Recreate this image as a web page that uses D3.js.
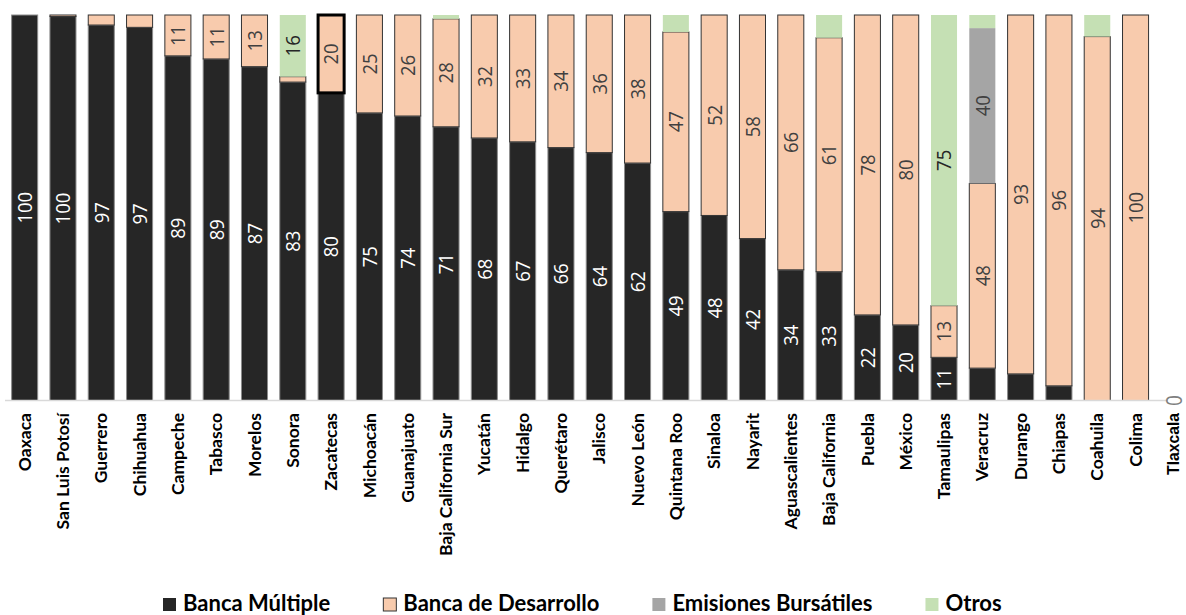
<!DOCTYPE html>
<html>
<head>
<meta charset="utf-8">
<script src="https://cdn.jsdelivr.net/npm/d3@7"></script>
<style>
  body { margin: 0; background: #fff; }
  svg { display: block; }
</style>
</head>
<body>
<div id="chart"></div>
<script>
var width = 1186,
  height = 615;

// estados, de mayor a menor participacion de banca multiple
var categories = ["Oaxaca", "San Luis Potosí", "Guerrero", "Chihuahua", "Campeche", "Tabasco",
  "Morelos", "Sonora", "Zacatecas", "Michoacán", "Guanajuato", "Baja California Sur", "Yucatán",
  "Hidalgo", "Querétaro", "Jalisco", "Nuevo León", "Quintana Roo", "Sinaloa", "Nayarit",
  "Aguascalientes", "Baja California", "Puebla", "México", "Tamaulipas", "Veracruz", "Durango",
  "Chiapas", "Coahuila", "Colima", "Tlaxcala"];

var bancaMultiple = [100, 99.6, 97.4, 96.8, 89.4, 88.6, 86.6, 82.6, 79.8, 74.6, 73.8, 71, 68.1,
  67.1, 65.6, 64.3, 61.6, 49, 48, 42, 33.9, 33.4, 22.2, 19.6, 11.2, 8.4, 6.9, 3.8, 0, 0, 0];
var bancaDesarrollo = [0, 0.4, 2.6, 3.2, 10.6, 11.4, 13.4, 1.4, 20.2, 25.4, 26.2, 28, 31.9,
  32.9, 34.4, 35.7, 38.4, 46.6, 52, 58, 66.1, 60.7, 77.8, 80.4, 13.4, 47.9, 93.1, 96.2, 94.4, 100, 0];
var emisiones = [0, 0, 0, 0, 0, 0, 0, 0, 0, 0, 0, 0, 0, 0, 0, 0, 0, 0, 0, 0, 0, 0, 0, 0, 0,
  40.3, 0, 0, 0, 0, 0];
var otros = [0, 0, 0, 0, 0, 0, 0, 16, 0, 0, 0, 1, 0, 0, 0, 0, 0, 4.4, 0, 0, 0, 5.9, 0, 0, 75.4,
  3.4, 0, 0, 5.6, 0, 0];

var seriesNames = ["Banca Múltiple", "Banca de Desarrollo", "Emisiones Bursátiles", "Otros"];
var seriesKeys = ["bm", "bd", "eb", "ot"];

var fills = { bm: "#262626", bd: "#f8cbad", eb: "#a5a5a5", ot: "#c5e0b4" },
  strokes = { bm: "#8c8c8c", bd: "#333333", eb: "none", ot: "none" },
  labelColors = { bm: "#ffffff", bd: "#404040", eb: "#404040", ot: "#262626" };

var highlighted = "Zacatecas";   // barra con borde grueso en el original

var rows = categories.map(function(c, i) {
  return { estado: c, bm: bancaMultiple[i], bd: bancaDesarrollo[i], eb: emisiones[i], ot: otros[i] };
});

var svg = d3.select("#chart").append("svg")
  .attr("width", width)
  .attr("height", height);

var x = d3.scaleBand()
  .domain(categories)
  .range([5.5, 1193])
  .paddingInner(0.32)
  .paddingOuter(0.16);

var y = d3.scaleLinear()
  .domain([0, 100])
  .range([400.5, 15]);

var stack = d3.stack().keys(seriesKeys);
var layers = stack(rows);

var layer = svg.append("g")
  .attr("class", "layers")
  .selectAll("g")
  .data(layers)
  .enter().append("g")
  .attr("class", function(d) { return "serie " + d.key; });

layer.selectAll("rect")
  .data(function(d) { return d.map(function(p) { p.key = d.key; return p; }); })
  .enter().append("rect")
  .filter(function(d) { return d[1] - d[0] > 0; })
  .attr("x", function(d) { return x(d.data.estado); })
  .attr("y", function(d) { return y(d[1]); })
  .attr("width", x.bandwidth())
  .attr("height", function(d) { return y(d[0]) - y(d[1]); })
  .attr("fill", function(d) { return fills[d.key]; })
  .attr("stroke", function(d) {
    return (d.key == "bd" && d.data.estado == highlighted) ? "#000" : strokes[d.key];
  })
  .attr("stroke-width", function(d) {
    return (d.key == "bd" && d.data.estado == highlighted) ? 3 : 1;
  });

// eje x
svg.append("line")
  .attr("x1", 5)
  .attr("x2", 1168)
  .attr("y1", y(0))
  .attr("y2", y(0))
  .attr("stroke", "#d9d9d9")
  .attr("stroke-width", 1.5);

// etiquetas de valores (solo los segmentos de 10 o mas)
var fmt = d3.format(".0f");
layer.selectAll("text")
  .data(function(d) { return d.filter(function(p) { return p[1] - p[0] >= 9.5; }); })
  .enter().append("text")
  .attr("transform", function(d) {
    var cx = x(d.data.estado) + x.bandwidth() / 2,
      cy = (y(d[0]) + y(d[1])) / 2;
    return "translate(" + cx + "," + cy + ") rotate(-90) scale(1,1.1)";
  })
  .attr("dy", "0.36em")
  .attr("text-anchor", "middle")
  .style("font-family", "'Open Sans', sans-serif")
  .style("font-size", "18.5px")
  .attr("fill", function(d) { return labelColors[d.key]; })
  .text(function(d) { return fmt(d[1] - d[0]); });

// estado sin financiamiento: el cero sobre el eje
svg.append("g")
  .selectAll("text")
  .data(rows.filter(function(r) { return r.bm + r.bd + r.eb + r.ot == 0; }))
  .enter().append("text")
  .attr("transform", function(d) {
    return "translate(" + (x(d.estado) + x.bandwidth() / 2 + 1) + "," + y(0) + ") rotate(-90) scale(1,1.1)";
  })
  .attr("dy", "0.36em")
  .attr("text-anchor", "middle")
  .style("font-family", "'Open Sans', sans-serif")
  .style("font-size", "19px")
  .attr("fill", "#7f7f7f")
  .text("0");

// nombres de los estados
svg.append("g")
  .attr("class", "ticks")
  .selectAll("text")
  .data(categories)
  .enter().append("text")
  .attr("transform", function(d) {
    return "translate(" + (x(d) + x.bandwidth() / 2) + "," + (y(0) + 12.5) + ") rotate(-90)";
  })
  .attr("dy", "0.35em")
  .attr("text-anchor", "end")
  .style("font-family", function(d) { return d == "Tlaxcala" ? "'Liberation Sans', Arial, sans-serif" : "Lato, sans-serif"; })
  .style("font-size", function(d) { return d == "Tlaxcala" ? "15.7px" : "17.5px"; })
  .style("font-weight", "bold")
  .attr("fill", "#000")
  .text(function(d) { return d; });

// leyenda
var legend = svg.append("g").attr("class", "legend");
var item = legend.selectAll("g")
  .data(seriesKeys)
  .enter().append("g");

item.append("rect")
  .attr("width", 13)
  .attr("height", 13)
  .attr("y", 598)
  .attr("fill", function(d) { return fills[d]; })
  .attr("stroke", function(d) { return d == "bd" ? "#333" : "none"; })
  .attr("stroke-width", 1);

item.append("text")
  .attr("x", 20)
  .attr("y", 611)
  .style("font-family", "Lato, sans-serif")
  .style("font-size", "22px")
  .style("font-weight", "bold")
  .attr("fill", "#000")
  .text(function(d, i) { return seriesNames[i]; });

var gap = 53, widths = [];
item.each(function() { widths.push(20 + this.querySelector("text").getComputedTextLength()); });
var pos = 163;
item.attr("transform", function(d, i) {
  var t = "translate(" + pos + ",0)";
  pos += widths[i] + gap;
  return t;
});
</script>
</body>
</html>
